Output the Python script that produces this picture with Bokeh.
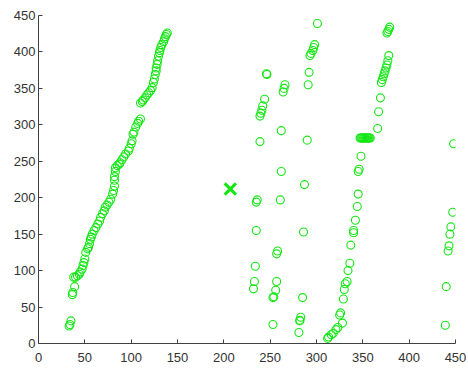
from bokeh.plotting import figure
from bokeh.embed import file_html
from bokeh.resources import INLINE
from bokeh.models import Range1d, FixedTicker

# Main diagonal band
band_x = [33, 34, 35, 36.5, 37, 39, 38, 40, 42, 44, 45, 47, 48, 49, 50, 51, 53, 54, 55, 56,
          57, 58, 60, 62, 64, 66, 67, 69, 71, 72, 74, 76, 78, 80, 81, 82, 82, 82, 83, 83,
          85, 87, 88, 90, 92, 94, 97, 98, 100, 101, 102, 103, 105, 107, 108, 110, 110, 112,
          113, 115, 117, 119, 121, 122.6, 124, 125, 126, 127, 127, 128, 128.6, 129.5, 130.5,
          131, 132, 133, 135, 136, 137, 138, 139]
band_y = [24, 26, 31, 67, 70, 78, 91, 91, 93, 95, 98, 102, 107, 111, 116, 125, 130, 132, 137, 143,
          146, 150, 155, 159, 164, 168, 173, 178, 182, 187, 190, 194, 198, 205, 210, 216, 224, 229, 236, 241,
          244, 246, 248, 252, 256, 260, 264, 268, 274, 278, 287, 290, 297, 302, 305, 308, 330, 332,
          334, 337, 341, 344, 347, 351, 358, 363, 369, 374, 378, 383, 388, 394, 399,
          402, 406, 410, 414, 418, 421, 424, 426]

# Middle scattered cluster
mid_x = [301, 298, 297, 296, 294, 293, 292, 291, 246, 246.5, 266, 265, 264, 244, 242, 241, 240, 239,
         262, 239, 290, 262, 236, 235, 261, 287, 235, 286, 258, 257, 234, 233, 232, 257, 256, 254,
         253, 285, 283, 282, 282, 253, 281]
mid_y = [439, 410, 406, 402, 398, 395, 372, 355, 370, 369, 355, 350, 345, 335, 326, 320, 316, 312,
         292, 277, 279, 236, 197, 194, 197, 218, 155, 153, 127, 123, 106, 85, 75, 85, 73, 64,
         63, 63, 36, 32, 31, 26, 15]

# Right steep band
right_x = [379, 378, 377, 376, 378, 377, 376, 375, 374, 373, 372, 371, 370, 369, 367, 366,
           347, 348, 349, 350, 351, 352, 353, 354, 355, 356, 357, 358,
           348, 346, 345, 345, 344, 342, 340, 340, 337, 336,
           334, 333, 331, 330, 329, 326, 325, 328, 323, 321, 318, 316, 313, 312]
right_y = [434, 431, 428, 426, 395, 388, 382, 378, 374, 370, 366, 362, 358, 337, 318, 295,
           282, 282, 282, 282, 282, 282, 282, 282, 282, 282, 282, 282,
           257, 239, 236, 205, 188, 169, 155, 152, 135, 110,
           100, 85, 82, 74, 61, 42, 39, 28, 22, 19, 14, 12, 9, 7]

# Far right column
far_x = [448, 447, 445, 444, 443, 442, 440, 439]
far_y = [274, 180, 160, 150, 134, 127, 78, 25]

# Cross marker
cross_x = [207]
cross_y = [212]

ticks = [0, 50, 100, 150, 200, 250, 300, 350, 400, 450]

p = figure(width=466, height=368, output_backend="svg", toolbar_location=None,
           x_range=Range1d(0, 450), y_range=Range1d(0, 450),
           min_border_left=38, min_border_right=11, min_border_top=15, min_border_bottom=25)
p.outline_line_color = None
p.grid.visible = False
p.background_fill_color = "white"
p.border_fill_color = "white"

green = "#14e614"
for xs, ys in [(band_x, band_y), (mid_x, mid_y), (right_x, right_y), (far_x, far_y)]:
    p.scatter(xs, ys, marker="circle", size=8, fill_color=None,
              line_color=green, line_width=1.1)
p.scatter(cross_x, cross_y, marker="x", size=16, line_color=green, line_width=3)

for ax in (p.xaxis[0], p.yaxis[0]):
    ax.ticker = FixedTicker(ticks=ticks)
    ax.minor_tick_line_color = None
    ax.major_tick_in = 4
    ax.major_tick_out = 0
    ax.axis_line_color = "#404040"
    ax.major_tick_line_color = "#404040"
    ax.major_label_text_color = "#333333"
    ax.major_label_text_font = "Liberation Sans"
    ax.major_label_text_font_size = "13px"
p.xaxis.major_label_standoff = 9
p.yaxis.major_label_standoff = 3

open("out.html", "w").write(file_html(p, INLINE))
